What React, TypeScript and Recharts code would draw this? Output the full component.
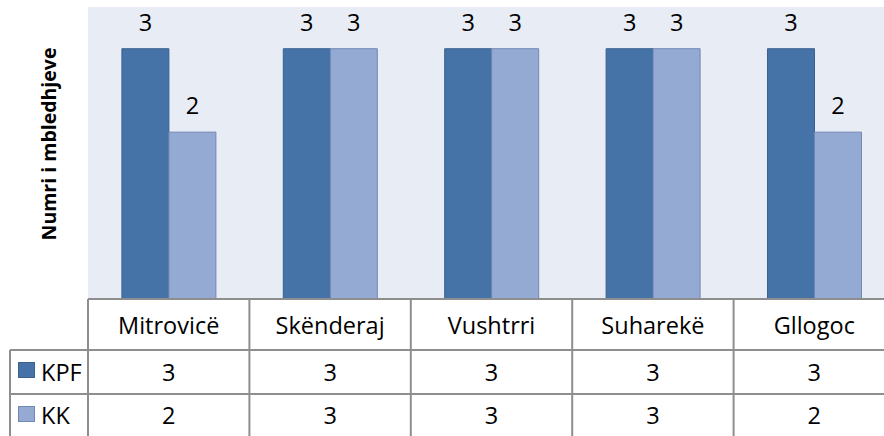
import React from "react";
import { BarChart, Bar, XAxis, YAxis, CartesianGrid, LabelList } from "recharts";

const categories = ["Mitrovicë", "Skënderaj", "Vushtrri", "Suharekë", "Gllogoc"];
const kpfValues = [3, 3, 3, 3, 3];
const kkValues = [2, 3, 3, 3, 2];
const seriesNames = ["KPF", "KK"];
const yTitle = "Numri i mbledhjeve";

const data = categories.map((c, i) => ({ cat: c, KPF: kpfValues[i], KK: kkValues[i] }));

const CHART_W = 896;
const CHART_H = 436;
const Y_W = 88;
const M_RIGHT = 1;
const BAND = (CHART_W - Y_W - M_RIGHT) / categories.length;
const HALF = BAND / 2;
const ROW1 = 51;
const ROW2 = 95;
const FONT = "'Open Sans', 'Noto Sans', sans-serif";
const FS = 23.5;
const LINE = "#8e8e8e";
const DARK = "#4572a7";
const DARK_S = "#3a6190";
const LIGHT = "#95aad2";
const LIGHT_S = "#7088b6";
const BG = "#e8ecf4";

const TableTick = (props: any) => {
  const { x, y, payload } = props;
  const i = payload.index;
  const l = x - HALF;
  const r = x + HALF;
  const bottom = CHART_H + 10;
  return (
    <g>
      {i === 0 && (
        <g>
          <line x1={l} y1={y} x2={l} y2={bottom} stroke={LINE} strokeWidth={2} />
          <line x1={10} y1={y + ROW1} x2={l} y2={y + ROW1} stroke={LINE} strokeWidth={2} />
          <line x1={10} y1={y + ROW2} x2={l} y2={y + ROW2} stroke={LINE} strokeWidth={2} />
          <line x1={10} y1={y + ROW1} x2={10} y2={bottom} stroke={LINE} strokeWidth={2} />
          <rect x={18.5} y={362.5} width={16} height={15} fill={DARK} stroke={DARK_S} />
          <text x={41} y={y + 73} dominantBaseline="central" fontFamily={FONT} fontSize={FS} fill="#000">
            {seriesNames[0]}
          </text>
          <rect x={18.5} y={406.5} width={16} height={15} fill={LIGHT} stroke={LIGHT_S} />
          <text x={41} y={y + 116} dominantBaseline="central" fontFamily={FONT} fontSize={FS} fill="#000">
            {seriesNames[1]}
          </text>
        </g>
      )}
      <line x1={r} y1={y} x2={r} y2={bottom} stroke={LINE} strokeWidth={2} />
      <line x1={l} y1={y + ROW1} x2={r} y2={y + ROW1} stroke={LINE} strokeWidth={2} />
      <line x1={l} y1={y + ROW2} x2={r} y2={y + ROW2} stroke={LINE} strokeWidth={2} />
      <text x={x} y={y + 26} textAnchor="middle" dominantBaseline="central" fontFamily={FONT} fontSize={FS} fill="#000">
        {payload.value}
      </text>
      <text x={x} y={y + 73} textAnchor="middle" dominantBaseline="central" fontFamily={FONT} fontSize={FS} fill="#000">
        {kpfValues[i]}
      </text>
      <text x={x} y={y + 116} textAnchor="middle" dominantBaseline="central" fontFamily={FONT} fontSize={FS} fill="#000">
        {kkValues[i]}
      </text>
    </g>
  );
};

const BarLabel = (props: any) => {
  const { x, y, width, value } = props;
  return (
    <text x={x + width / 2} y={y - 27} textAnchor="middle" dominantBaseline="central" fontFamily={FONT} fontSize={FS} fill="#000">
      {value}
    </text>
  );
};

const YTitle = (props: any) => (
  <text
    x={48}
    y={144}
    transform="rotate(-90 48 144)"
    textAnchor="middle"
    dominantBaseline="central"
    fontFamily={FONT}
    fontWeight="bold"
    fontSize={19.5}
    fill="#000"
  >
    {yTitle}
  </text>
);

export default function App() {
  return (
    <div style={{ position: "absolute", left: 0, top: 0, width: 884, height: 436, overflow: "hidden", background: "#fff" }}>
      <BarChart
        width={CHART_W}
        height={CHART_H}
        data={data}
        margin={{ top: 7, right: M_RIGHT, left: 0, bottom: 0 }}
        barCategoryGap="21%"
        barGap={0}
      >
        <CartesianGrid fill={BG} horizontal={false} vertical={false} />
        <YAxis
          width={Y_W}
          domain={[0, 3.5]}
          ticks={[0]}
          tick={false}
          axisLine={false}
          tickLine={false}
          label={<YTitle />}
        />
        <XAxis
          dataKey="cat"
          height={CHART_H - 299}
          interval={0}
          tickLine={false}
          tickSize={0}
          tickMargin={0}
          axisLine={{ stroke: LINE, strokeWidth: 2 }}
          tick={<TableTick />}
        />
        <Bar dataKey="KPF" fill={DARK} stroke={DARK_S} strokeWidth={1} isAnimationActive={false}>
          <LabelList dataKey="KPF" content={<BarLabel />} />
        </Bar>
        <Bar dataKey="KK" fill={LIGHT} stroke={LIGHT_S} strokeWidth={1} isAnimationActive={false}>
          <LabelList dataKey="KK" content={<BarLabel />} />
        </Bar>
      </BarChart>
    </div>
  );
}
